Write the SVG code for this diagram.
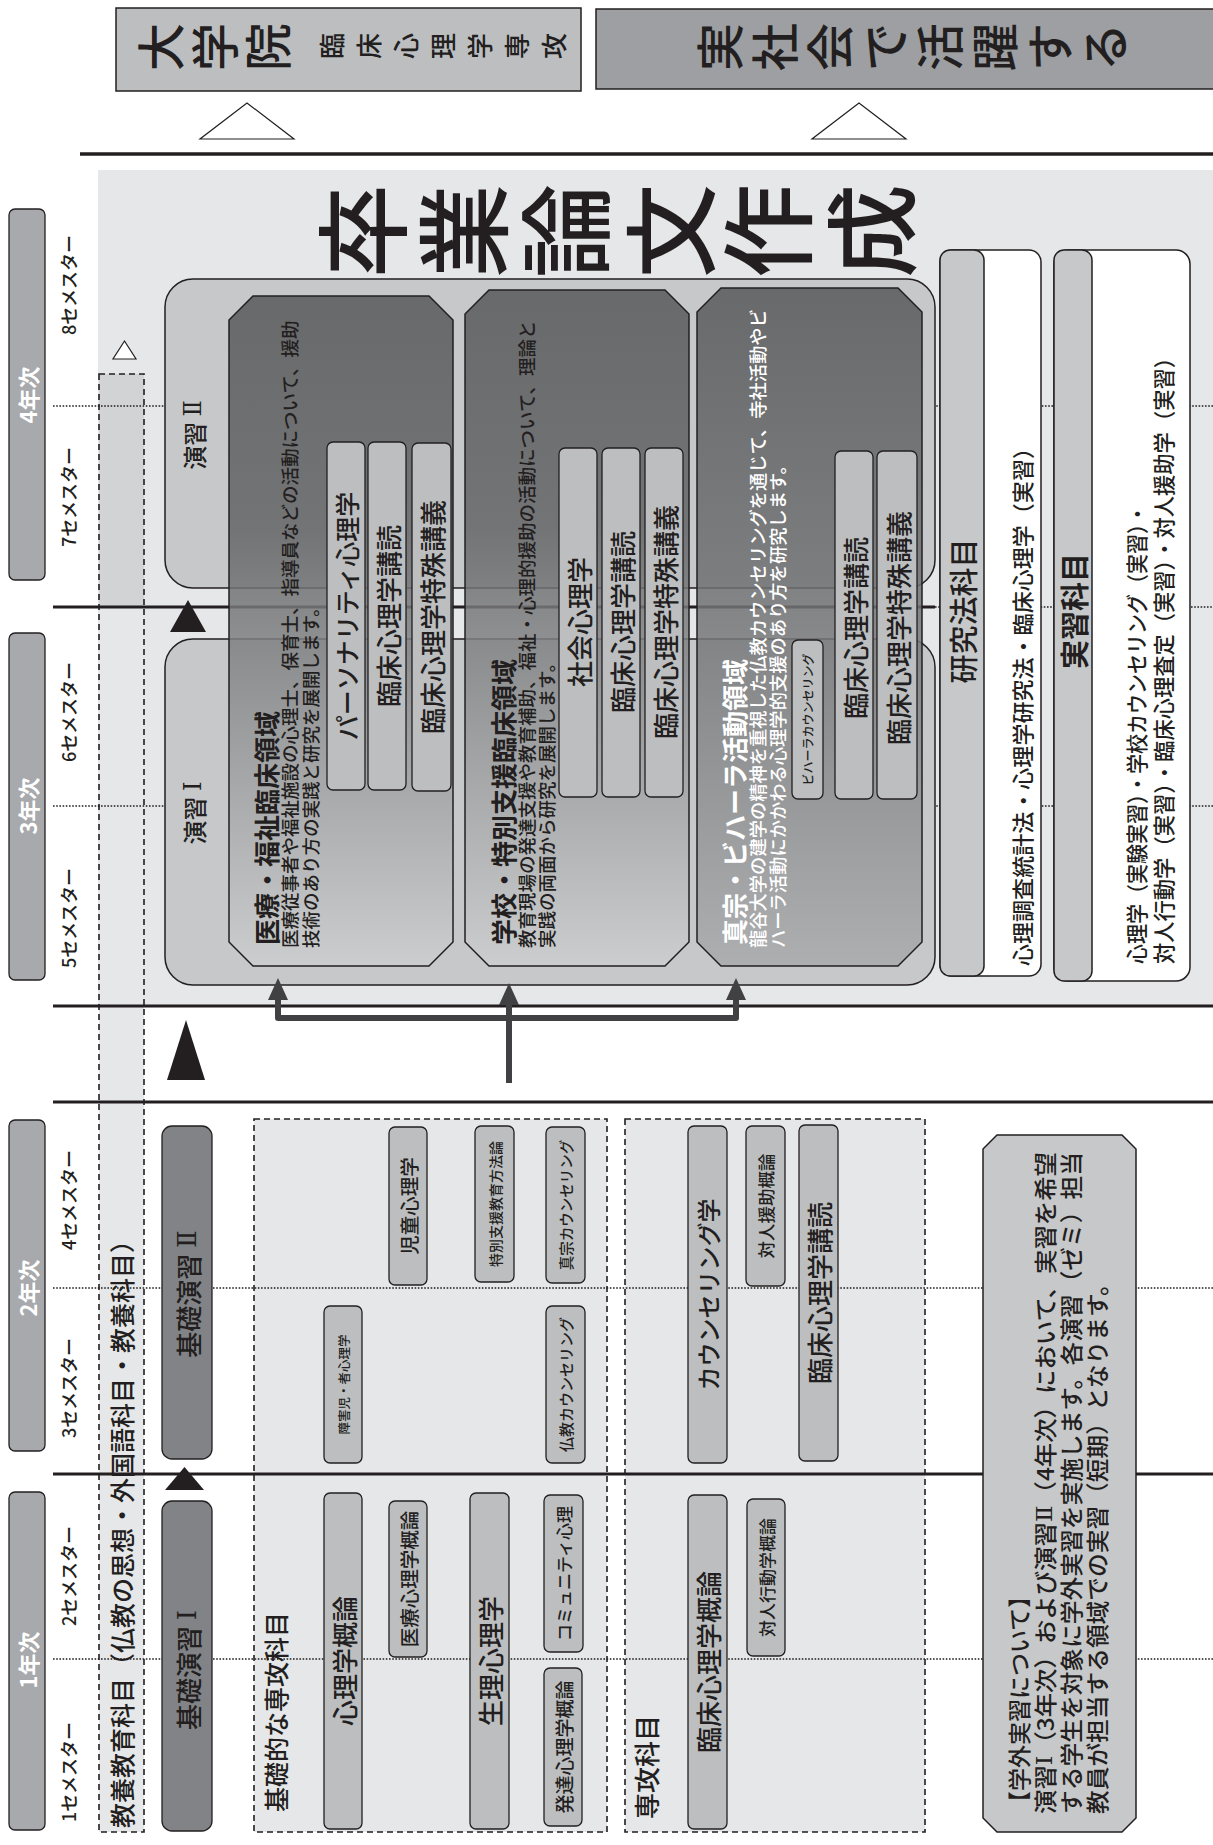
<svg xmlns="http://www.w3.org/2000/svg" width="1213" height="1845" viewBox="0 0 1213 1845">
<defs>
<style>
.t{font-family:"Noto Sans CJK JP","Noto Sans",sans-serif;font-weight:500;fill:#231f20;dominant-baseline:central}
.m{text-anchor:middle}
.b{font-weight:bold}
.w{fill:#ffffff}
.rn{font-family:"DejaVu Serif","Liberation Serif",serif;font-weight:normal}
.sub{fill:#bcbec0;stroke:#231f20;stroke-width:1.3}
.dk{fill:#818386;stroke:#231f20;stroke-width:1.3}
.yr{fill:#a7a9ac;stroke:#231f20;stroke-width:1.3}
.solid{stroke:#231f20;stroke-width:3;fill:none}
.dot{stroke:#231f20;stroke-width:1.6;stroke-dasharray:1.6 1.6;fill:none}
.dash{fill:none;stroke:#231f20;stroke-width:1.6;stroke-dasharray:6 4}
.outer{fill:#c7c8ca;stroke:#231f20;stroke-width:1.5}
.dom{stroke:#231f20;stroke-width:1.5;fill-opacity:0.85}
.tri{fill:#ffffff;stroke:#231f20;stroke-width:1.2}
.btri{fill:#231f20}
.conn{fill:none;stroke:#414042;stroke-width:6;stroke-linejoin:round}
</style>
<linearGradient id="gDom" x1="0" y1="0" x2="0" y2="1">
<stop offset="0" stop-color="#58595b"/>
<stop offset="0.35" stop-color="#646567"/>
<stop offset="1" stop-color="#cdcecf"/>
</linearGradient>
<linearGradient id="gShin" x1="0" y1="0" x2="0" y2="1">
<stop offset="0" stop-color="#58595b"/>
<stop offset="0.45" stop-color="#707173"/>
<stop offset="1" stop-color="#a9aaac"/>
</linearGradient>
<marker id="ah" viewBox="0 -10 22 20" refX="1" refY="0" markerWidth="22" markerHeight="20" markerUnits="userSpaceOnUse" orient="auto">
<path d="M0,-10 L22,0 L0,10 Z" fill="#414042"/>
</marker>
</defs>

<rect width="1213" height="1845" fill="#ffffff"/>

<!-- backgrounds -->
<g id="backgrounds">
<rect x="98" y="170" width="1115" height="836" fill="#e6e7e8"/>
<rect x="99" y="374" width="45" height="233" fill="#d1d3d4"/>
<rect x="99" y="607" width="45" height="1225" fill="#e6e7e8"/>
<rect x="254" y="1119" width="353" height="713" fill="#e6e7e8"/>
<rect x="625" y="1119" width="300" height="713" fill="#e6e7e8"/>
</g>

<!-- grid lines -->
<g id="grid">
<line class="solid" x1="80" y1="154" x2="1213" y2="154" style="stroke-width:3.5"/>
<line class="dot" x1="53" y1="406" x2="1213" y2="406"/>
<line class="solid" x1="53" y1="607" x2="935" y2="607"/>
<line class="dot" x1="935" y1="607" x2="1213" y2="607"/>
<line class="dot" x1="53" y1="806" x2="1213" y2="806"/>
<line class="solid" x1="53" y1="1006" x2="1213" y2="1006"/>
<line class="solid" x1="53" y1="1102" x2="1213" y2="1102"/>
<line class="dot" x1="53" y1="1288" x2="1213" y2="1288"/>
<line class="solid" x1="53" y1="1474" x2="1213" y2="1474"/>
<line class="dot" x1="53" y1="1659" x2="1213" y2="1659"/>
</g>

<!-- header -->
<g id="node-grad-school">
<rect x="116" y="8" width="465" height="83" fill="#bcbec0" stroke="#231f20" stroke-width="1.5"/>
<text class="t m" x="158" y="47" font-size="48" transform="rotate(-90 158 47)">大</text>
<text class="t m" x="212" y="47" font-size="48" transform="rotate(-90 212 47)">学</text>
<text class="t m" x="265" y="47" font-size="48" transform="rotate(-90 265 47)">院</text>
<text class="t m" x="330" y="46" font-size="26" transform="rotate(-90 330 46)">臨</text>
<text class="t m" x="367" y="46" font-size="26" transform="rotate(-90 367 46)">床</text>
<text class="t m" x="404" y="46" font-size="26" transform="rotate(-90 404 46)">心</text>
<text class="t m" x="441" y="46" font-size="26" transform="rotate(-90 441 46)">理</text>
<text class="t m" x="478" y="46" font-size="26" transform="rotate(-90 478 46)">学</text>
<text class="t m" x="515" y="46" font-size="26" transform="rotate(-90 515 46)">専</text>
<text class="t m" x="552" y="46" font-size="26" transform="rotate(-90 552 46)">攻</text>
</g>
<g id="node-society">
<rect x="596" y="9" width="625" height="80" fill="#9d9fa2" stroke="#231f20" stroke-width="1.5"/>
<text class="t m" x="717" y="47" font-size="48" transform="rotate(-90 717 47)">実</text>
<text class="t m" x="772" y="47" font-size="48" transform="rotate(-90 772 47)">社</text>
<text class="t m" x="827" y="47" font-size="48" transform="rotate(-90 827 47)">会</text>
<text class="t m" x="882" y="47" font-size="48" transform="rotate(-90 882 47)">で</text>
<text class="t m" x="937" y="47" font-size="48" transform="rotate(-90 937 47)">活</text>
<text class="t m" x="992" y="47" font-size="48" transform="rotate(-90 992 47)">躍</text>
<text class="t m" x="1047" y="47" font-size="48" transform="rotate(-90 1047 47)">す</text>
<text class="t m" x="1102" y="47" font-size="48" transform="rotate(-90 1102 47)">る</text>
</g>
<g id="header-triangles">
<polygon class="tri" points="200,139 294,139 247,103"/>
<polygon class="tri" points="812,139 906,139 859,103"/>
</g>

<!-- thesis title -->
<g id="node-thesis">
<text class="t m" x="358" y="231" font-size="94" transform="rotate(-90 358 231)">卒</text>
<text class="t m" x="459" y="231" font-size="94" transform="rotate(-90 459 231)">業</text>
<text class="t m" x="561" y="231" font-size="94" transform="rotate(-90 561 231)">論</text>
<text class="t m" x="666" y="231" font-size="94" transform="rotate(-90 666 231)">文</text>
<text class="t m" x="763" y="231" font-size="94" transform="rotate(-90 763 231)">作</text>
<text class="t m" x="867" y="231" font-size="94" transform="rotate(-90 867 231)">成</text>
</g>

<!-- year / semester column -->
<g id="node-year4">
<rect class="yr" x="9" y="209" width="36" height="371" rx="6"/>
<text class="t m b w" x="27" y="395" font-size="22" transform="rotate(-90 27 395)">4年次</text>
</g>
<g id="node-year3">
<rect class="yr" x="9" y="633" width="36" height="347" rx="6"/>
<text class="t m b w" x="27" y="806" font-size="22" transform="rotate(-90 27 806)">3年次</text>
</g>
<g id="node-year2">
<rect class="yr" x="9" y="1120" width="36" height="331" rx="6"/>
<text class="t m b w" x="27" y="1288" font-size="22" transform="rotate(-90 27 1288)">2年次</text>
</g>
<g id="node-year1">
<rect class="yr" x="9" y="1492" width="36" height="338" rx="6"/>
<text class="t m b w" x="27" y="1660" font-size="22" transform="rotate(-90 27 1660)">1年次</text>
</g>
<g id="semesters">
<text class="t m" x="68" y="285" font-size="18" transform="rotate(-90 68 285)">8セメスター</text>
<text class="t m" x="68" y="497" font-size="18" transform="rotate(-90 68 497)">7セメスター</text>
<text class="t m" x="68" y="712" font-size="18" transform="rotate(-90 68 712)">6セメスター</text>
<text class="t m" x="68" y="918" font-size="18" transform="rotate(-90 68 918)">5セメスター</text>
<text class="t m" x="68" y="1200" font-size="18" transform="rotate(-90 68 1200)">4セメスター</text>
<text class="t m" x="68" y="1388" font-size="18" transform="rotate(-90 68 1388)">3セメスター</text>
<text class="t m" x="68" y="1576" font-size="18" transform="rotate(-90 68 1576)">2セメスター</text>
<text class="t m" x="68" y="1772" font-size="18" transform="rotate(-90 68 1772)">1セメスター</text>
</g>

<!-- liberal arts column -->
<g id="node-liberal">
<rect class="dash" x="99" y="374" width="45" height="1458"/>
<polygon class="tri" points="113,359 136,359 124.5,341"/>
<text class="t" x="121" y="1828" font-size="25" transform="rotate(-90 121 1828)">教養教育科目（仏教の思想・外国語科目・教養科目）</text>
</g>

<!-- seminars -->
<g id="node-seminar2">
<rect class="outer" x="165" y="279" width="770" height="309" rx="28"/>
<text class="t m" x="193" y="435" font-size="24" transform="rotate(-90 193 435)">演習 <tspan class="rn">Ⅱ</tspan></text>
</g>
<g id="node-seminar1">
<rect class="outer" x="165" y="639" width="770" height="346" rx="28"/>
<text class="t m" x="193" y="813" font-size="24" transform="rotate(-90 193 813)">演習 <tspan class="rn">Ⅰ</tspan></text>
</g>

<!-- domains -->
<g id="node-medical">
<polygon class="dom" fill="url(#gDom)" points="253,296 429,296 453,320 453,942 429,966 253,966 229,942 229,320"/>
<text class="t b" x="265" y="945" font-size="26" transform="rotate(-90 265 945)">医療・福祉臨床領域</text>
<text class="t" x="289" y="948" font-size="18.5" transform="rotate(-90 289 948)">医療従事者や福祉施設の心理士、保育士、指導員などの活動について、援助</text>
<text class="t" x="310" y="948" font-size="18.5" transform="rotate(-90 310 948)">技術のあり方の実践と研究を展開します。</text>
<rect class="sub" x="327" y="442" width="38" height="348" rx="6"/>
<text class="t m" x="346" y="616" font-size="25" transform="rotate(-90 346 616)">パーソナリティ心理学</text>
<rect class="sub" x="368" y="442" width="38" height="348" rx="6"/>
<text class="t m" x="387" y="616" font-size="26" transform="rotate(-90 387 616)">臨床心理学講読</text>
<rect class="sub" x="412" y="443" width="39" height="348" rx="6"/>
<text class="t m" x="431.5" y="617" font-size="26" transform="rotate(-90 431.5 617)">臨床心理学特殊講義</text>
</g>
<g id="node-school">
<polygon class="dom" fill="url(#gDom)" points="489,290 665,290 689,314 689,942 665,966 489,966 465,942 465,314"/>
<text class="t b" x="502" y="945" font-size="26" transform="rotate(-90 502 945)">学校・特別支援臨床領域</text>
<text class="t" x="526" y="948" font-size="18.5" transform="rotate(-90 526 948)">教育現場の発達支援や教育補助、福祉・心理的援助の活動について、理論と</text>
<text class="t" x="546" y="948" font-size="18.5" transform="rotate(-90 546 948)">実践の両面から研究を展開します。</text>
<rect class="sub" x="559" y="448" width="38" height="349" rx="6"/>
<text class="t m" x="578" y="622" font-size="26" transform="rotate(-90 578 622)">社会心理学</text>
<rect class="sub" x="602" y="448" width="38" height="349" rx="6"/>
<text class="t m" x="621" y="622" font-size="26" transform="rotate(-90 621 622)">臨床心理学講読</text>
<rect class="sub" x="645" y="448" width="38" height="349" rx="6"/>
<text class="t m" x="664" y="622" font-size="26" transform="rotate(-90 664 622)">臨床心理学特殊講義</text>
</g>
<g id="node-shinshu">
<polygon class="dom" fill="url(#gShin)" points="721,288 898,288 922,312 922,942 898,966 721,966 697,942 697,312"/>
<text class="t b w" x="733" y="945" font-size="26" transform="rotate(-90 733 945)">真宗・ビハーラ活動領域</text>
<text class="t w" x="757" y="948" font-size="18.3" transform="rotate(-90 757 948)">龍谷大学の建学の精神を重視した仏教カウンセリングを通じて、寺社活動やビ</text>
<text class="t w" x="777" y="948" font-size="18.3" transform="rotate(-90 777 948)">ハーラ活動にかかわる心理学的支援のあり方を研究します。</text>
<rect class="sub" x="792" y="640" width="31" height="159" rx="6"/>
<text class="t m" x="807.5" y="719.5" font-size="12" transform="rotate(-90 807.5 719.5)">ビハーラカウンセリング</text>
<rect class="sub" x="835" y="451" width="38" height="348" rx="6"/>
<text class="t m" x="854" y="628" font-size="26" transform="rotate(-90 854 628)">臨床心理学講読</text>
<rect class="sub" x="877" y="451" width="40" height="348" rx="6"/>
<text class="t m" x="897" y="628" font-size="26" transform="rotate(-90 897 628)">臨床心理学特殊講義</text>
</g>

<!-- right column -->
<g id="node-research">
<rect x="940" y="250" width="101" height="726" rx="12" fill="#ffffff" stroke="#231f20" stroke-width="1.5"/>
<rect x="940" y="250" width="44" height="726" rx="10" fill="#c7c8ca" stroke="#231f20" stroke-width="1.5"/>
<text class="t m" x="962" y="611" font-size="29" transform="rotate(-90 962 611)">研究法科目</text>
<text class="t" x="1021" y="966" font-size="22" textLength="529" lengthAdjust="spacingAndGlyphs" transform="rotate(-90 1021 966)">心理調査統計法・心理学研究法・臨床心理学（実習）</text>
</g>
<g id="node-practice">
<rect x="1054" y="250" width="136" height="731" rx="14" fill="#ffffff" stroke="#231f20" stroke-width="1.5"/>
<rect x="1054" y="250" width="38" height="731" rx="10" fill="#c7c8ca" stroke="#231f20" stroke-width="1.5"/>
<text class="t m b" x="1073" y="611" font-size="29" transform="rotate(-90 1073 611)">実習科目</text>
<text class="t" x="1135" y="964" font-size="22" textLength="460" lengthAdjust="spacingAndGlyphs" transform="rotate(-90 1135 964)">心理学（実験実習）・学校カウンセリング（実習）・</text>
<text class="t" x="1162" y="964" font-size="22" textLength="617" lengthAdjust="spacingAndGlyphs" transform="rotate(-90 1162 964)">対人行動学（実習）・臨床心理査定（実習）・対人援助学（実習）</text>
</g>

<!-- basic seminars -->
<g id="node-kiso2">
<rect class="dk" x="162" y="1126" width="50" height="333" rx="10"/>
<text class="t m" x="187" y="1294" font-size="26" transform="rotate(-90 187 1294)">基礎演習 <tspan class="rn">Ⅱ</tspan></text>
</g>
<g id="node-kiso1">
<rect class="dk" x="162" y="1501" width="50" height="330" rx="10"/>
<text class="t m" x="187" y="1670" font-size="26" transform="rotate(-90 187 1670)">基礎演習 <tspan class="rn">Ⅰ</tspan></text>
</g>

<!-- basic major subjects -->
<g id="node-basic-major">
<rect class="dash" x="254" y="1119" width="353" height="713"/>
<text class="t" x="275" y="1812" font-size="25" transform="rotate(-90 275 1812)">基礎的な専攻科目</text>
<rect class="sub" x="389" y="1127" width="38" height="158" rx="6"/>
<text class="t m" x="408" y="1206" font-size="19.5" transform="rotate(-90 408 1206)">児童心理学</text>
<rect class="sub" x="475" y="1126" width="39" height="156" rx="6"/>
<text class="t m" x="494.5" y="1204" font-size="14" transform="rotate(-90 494.5 1204)">特別支援教育方法論</text>
<rect class="sub" x="546" y="1127" width="39" height="156" rx="6"/>
<text class="t m" x="565.5" y="1205" font-size="14.5" transform="rotate(-90 565.5 1205)">真宗カウンセリング</text>
<rect class="sub" x="324" y="1306" width="38" height="157" rx="6"/>
<text class="t m" x="343" y="1384.5" font-size="12.5" transform="rotate(-90 343 1384.5)">障害児・者心理学</text>
<rect class="sub" x="546" y="1306" width="39" height="157" rx="6"/>
<text class="t m" x="565.5" y="1384.5" font-size="15" transform="rotate(-90 565.5 1384.5)">仏教カウンセリング</text>
<rect class="sub" x="324" y="1493" width="38" height="336" rx="6"/>
<text class="t m" x="343" y="1661" font-size="26" transform="rotate(-90 343 1661)">心理学概論</text>
<rect class="sub" x="389" y="1501" width="38" height="156" rx="6"/>
<text class="t m" x="408" y="1579" font-size="19.5" transform="rotate(-90 408 1579)">医療心理学概論</text>
<rect class="sub" x="470" y="1493" width="39" height="336" rx="6"/>
<text class="t m" x="489.5" y="1661" font-size="26" transform="rotate(-90 489.5 1661)">生理心理学</text>
<rect class="sub" x="544" y="1495" width="39" height="157" rx="6"/>
<text class="t m" x="563.5" y="1573.5" font-size="17" transform="rotate(-90 563.5 1573.5)">コミュニティ心理</text>
<rect class="sub" x="544" y="1668" width="38" height="158" rx="6"/>
<text class="t m" x="563" y="1747" font-size="19" transform="rotate(-90 563 1747)">発達心理学概論</text>
</g>

<!-- major subjects -->
<g id="node-major">
<rect class="dash" x="625" y="1119" width="300" height="713"/>
<text class="t" x="645" y="1819" font-size="26" transform="rotate(-90 645 1819)">専攻科目</text>
<rect class="sub" x="688" y="1126" width="39" height="337" rx="6"/>
<text class="t m" x="707.5" y="1294.5" font-size="24" transform="rotate(-90 707.5 1294.5)">カウンセリング学</text>
<rect class="sub" x="746" y="1126" width="39" height="160" rx="6"/>
<text class="t m" x="765.5" y="1206" font-size="17.5" transform="rotate(-90 765.5 1206)">対人援助概論</text>
<rect class="sub" x="799" y="1125" width="39" height="336" rx="6"/>
<text class="t m" x="818.5" y="1293" font-size="26" transform="rotate(-90 818.5 1293)">臨床心理学講読</text>
<rect class="sub" x="688" y="1495" width="39" height="334" rx="6"/>
<text class="t m" x="707.5" y="1662" font-size="26" transform="rotate(-90 707.5 1662)">臨床心理学概論</text>
<rect class="sub" x="747" y="1499" width="38" height="157" rx="6"/>
<text class="t m" x="766" y="1577.5" font-size="17" transform="rotate(-90 766 1577.5)">対人行動学概論</text>
</g>

<!-- note -->
<g id="node-note">
<polygon fill="#c7c8ca" stroke="#231f20" stroke-width="1.5" points="997,1135 1122,1135 1136,1149 1136,1818 1122,1832 997,1832 983,1818 983,1149"/>
<text class="t" x="1018" y="1814" font-size="23" transform="rotate(-90 1018 1814)">【学外実習について】</text>
<text class="t" x="1044" y="1814" font-size="23" textLength="662" lengthAdjust="spacingAndGlyphs" transform="rotate(-90 1044 1814)">演習<tspan class="rn">Ⅰ</tspan>（3年次）および演習<tspan class="rn">Ⅱ</tspan>（4年次）において、実習を希望</text>
<text class="t" x="1070" y="1814" font-size="23" textLength="662" lengthAdjust="spacingAndGlyphs" transform="rotate(-90 1070 1814)">する学生を対象に学外実習を実施します。各演習（ゼミ）担当</text>
<text class="t" x="1096" y="1814" font-size="23" textLength="542" lengthAdjust="spacingAndGlyphs" transform="rotate(-90 1096 1814)">教員が担当する領域での実習（短期）となります。</text>
</g>

<!-- progression triangles -->
<g id="progress-markers">
<polygon class="btri" points="170,632 206,632 188,600"/>
<polygon class="btri" points="167,1080 205,1080 186,1020"/>
<polygon class="btri" points="165,1490 204,1490 184.5,1467"/>
</g>

<!-- connectors -->
<g id="connectors">
<path class="conn" d="M509,1083 V1004" marker-end="url(#ah)"/>
<path class="conn" d="M509,1018 H278 V999" marker-end="url(#ah)"/>
<path class="conn" d="M509,1018 H736 V999" marker-end="url(#ah)"/>
</g>
</svg>
